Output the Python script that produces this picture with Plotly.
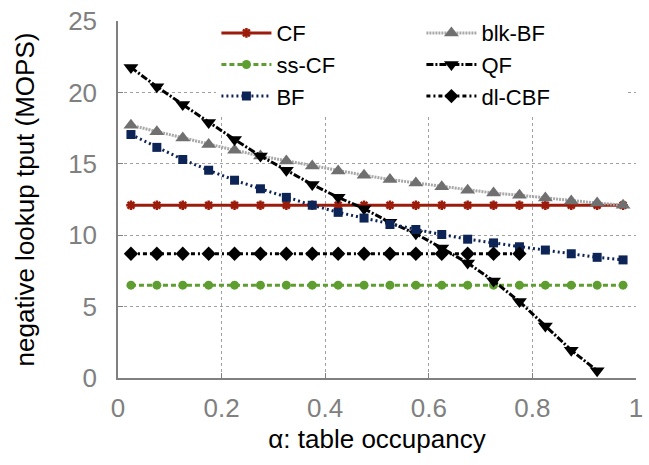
import plotly.graph_objects as go

occupancy = [0.025 + 0.05 * i for i in range(20)]

cf = [12.1] * 20
ss_cf = [6.5] * 20
bf = [17.05, 16.15, 15.3, 14.55, 13.85, 13.25, 12.65, 12.1, 11.6, 11.2,
      10.75, 10.4, 10.05, 9.72, 9.46, 9.19, 8.96, 8.7, 8.45, 8.27]
blk_bf = [17.7, 17.25, 16.8, 16.35, 15.95, 15.55, 15.2, 14.85, 14.5, 14.2,
          13.9, 13.65, 13.4, 13.15, 12.95, 12.8, 12.6, 12.4, 12.25, 12.1]
qf = [21.75, 20.4, 19.15, 17.9, 16.7, 15.55, 14.55, 13.55, 12.65, 11.85,
      10.9, 10.1, 9.1, 8.05, 6.8, 5.35, 3.65, 1.95, 0.5]
dl_cbf = [8.7] * 16

x_ticks = [0, 0.2, 0.4, 0.6, 0.8, 1]
x_tick_labels = ["0", "0.2", "0.4", "0.6", "0.8", "1"]
y_ticks = [0, 5, 10, 15, 20, 25]
y_tick_labels = ["0", "5", "10", "15", "20", "25"]

FONT = "Liberation Sans, Arial, Helvetica, sans-serif"

fig = go.Figure()

def add(name, ys, color, dash, symbol, msize, rank, mcolor=None, lw=3, mline=None):
    fig.add_trace(go.Scatter(
        x=occupancy[:len(ys)], y=ys, name=name, mode="lines+markers",
        line=dict(color=color, width=lw, dash=dash),
        marker=dict(symbol=symbol, size=msize, color=mcolor or color,
                    line=mline or dict(width=0)),
        legendrank=rank,
    ))

add("CF", cf, "#9c1c0c", "solid", "asterisk-open", 8, 1,
    mline=dict(width=2.5, color="#9c1c0c"))
add("blk-BF", blk_bf, "#a8a8a8", "2px,1px", "triangle-up", 13, 2, mcolor="#707070")
add("ss-CF", ss_cf, "#5e9e30", "5px,3px", "circle", 9, 3)
add("QF", qf, "#000000", "7px,2px,2px,2px", "triangle-down", 13, 4)
add("BF", bf, "#0c2456", "2px,3px", "square", 9, 5)
add("dl-CBF", dl_cbf, "#000000", "4px,3px,2px,3px", "diamond", 11, 6)

axis_common = dict(
    showgrid=True, gridcolor="#a0a0a0", griddash="dot", gridwidth=1,
    showline=True, linecolor="#808080", linewidth=1.5,
    ticks="inside", ticklen=5, tickcolor="#808080",
    tickfont=dict(family=FONT, size=26, color="#808080"),
    zeroline=False, mirror=False, ticklabeloverflow="allow",
)

fig.update_xaxes(range=[0, 1], tickvals=x_ticks, ticktext=x_tick_labels,
                 title=dict(text="α: table occupancy",
                            font=dict(family=FONT, size=26, color="#000000"),
                            standoff=8),
                 ticklabelstandoff=6,
                 **axis_common)
fig.update_yaxes(range=[0, 25], tickvals=y_ticks, ticktext=y_tick_labels,
                 title=dict(text="negative lookup tput (MOPS)",
                            font=dict(family=FONT, size=26, color="#000000"),
                            standoff=26),
                 ticklabelstandoff=14,
                 **axis_common)

fig.update_layout(
    width=649, height=465,
    margin=dict(l=118, r=6, t=16, b=87),
    paper_bgcolor="white", plot_bgcolor="white",
    showlegend=True,
    legend=dict(orientation="h", x=0.19, xanchor="left", y=1.025, yanchor="top",
                bgcolor="white", font=dict(family=FONT, size=22, color="#000000"),
                entrywidth=140, entrywidthmode="pixels", itemwidth=50,
                traceorder="normal"),
)

fig.write_html("out.html")
